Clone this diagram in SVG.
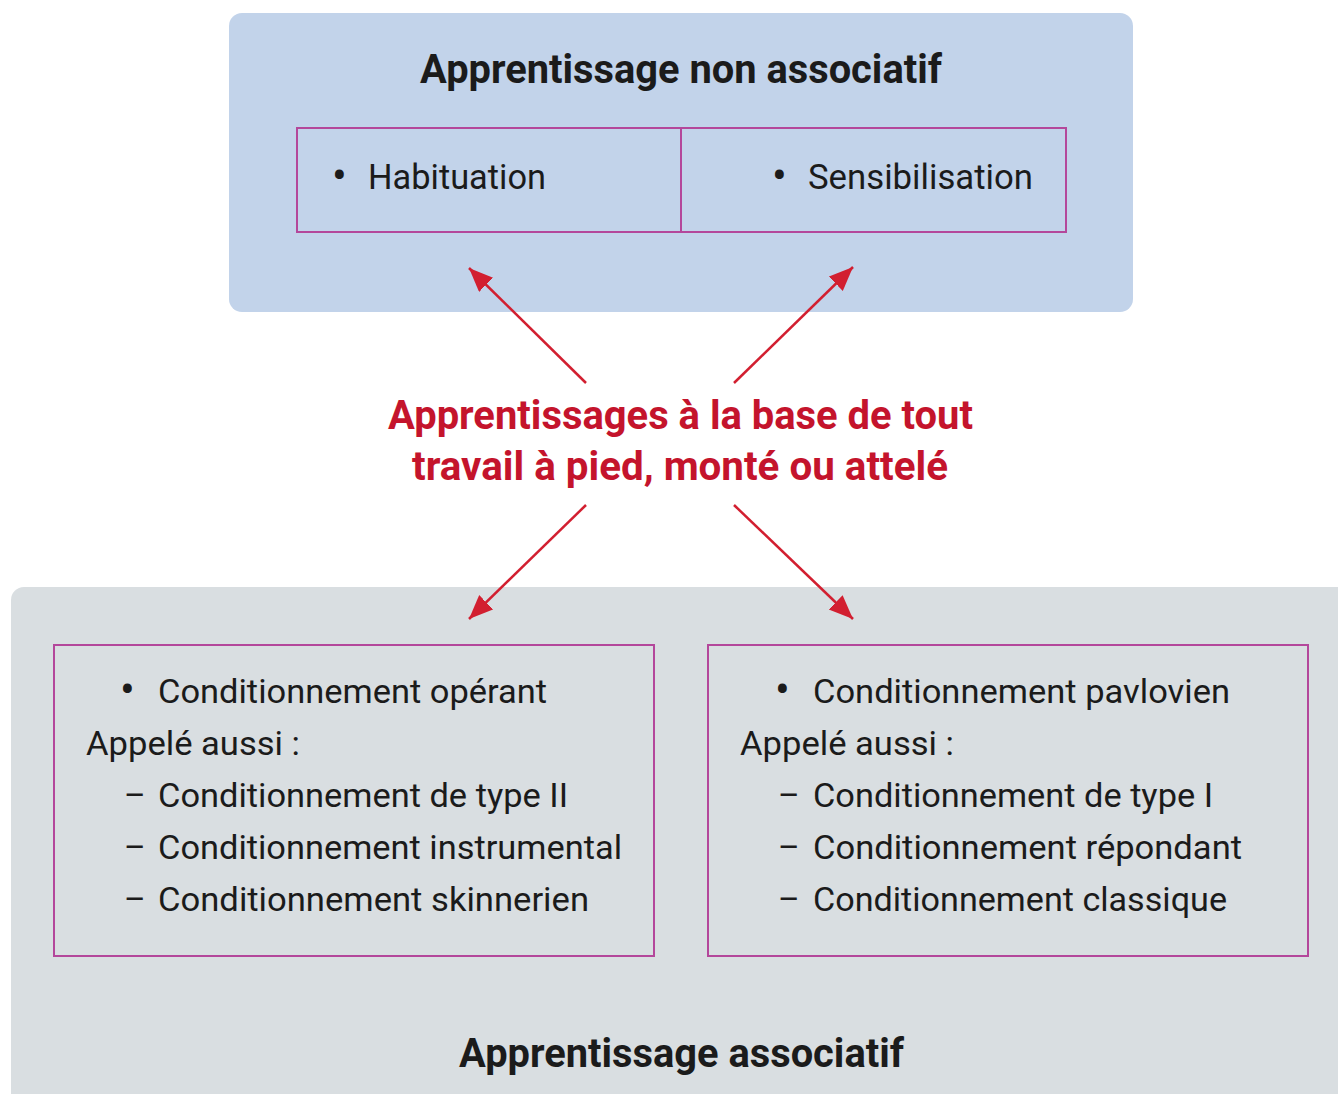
<svg xmlns="http://www.w3.org/2000/svg" width="1338" height="1094" viewBox="0 0 1338 1094">
<style>
.t{font-family:Roboto,"Open Sans","Liberation Sans",sans-serif;fill:#1b1b1b}
.b{font-size:33px}
.h{font-size:35px}
.bu{font-size:44px}
.ti{font-size:40px;font-weight:bold}
.red{font-family:Roboto,"Open Sans","Liberation Sans",sans-serif;font-size:40px;font-weight:bold;fill:#c4142c}
.box{fill:none;stroke:#b4479b;stroke-width:2}
.arr{stroke:#d21f30;stroke-width:2.5;fill:none;marker-end:url(#ah)}
</style>
<defs>
<marker id="ah" markerUnits="userSpaceOnUse" markerWidth="26" markerHeight="22" refX="24" refY="10" orient="auto">
<path d="M0,0 L24,10 L0,20 Z" fill="#d21f30"/>
</marker>
</defs>
<rect width="1338" height="1094" fill="#ffffff"/>
<g id="non-associatif">
<rect x="229" y="13" width="904" height="299" rx="13" fill="#c2d3ea"/>
<text class="t ti" x="420" y="83" textLength="522" lengthAdjust="spacingAndGlyphs">Apprentissage non associatif</text>
<rect class="box" x="297" y="128" width="769" height="104"/>
<line x1="681" y1="128" x2="681" y2="232" stroke="#b4479b" stroke-width="2"/>
</g>
<g id="habituation">
<text class="t bu" x="332" y="191">•</text>
<text class="t h" x="368" y="189" textLength="178" lengthAdjust="spacingAndGlyphs">Habituation</text>
</g>
<g id="sensibilisation">
<text class="t bu" x="772" y="191">•</text>
<text class="t h" x="808" y="189" textLength="225" lengthAdjust="spacingAndGlyphs">Sensibilisation</text>
</g>
<g id="associatif">
<rect x="11" y="587" width="1345" height="530" rx="13" fill="#d9dee1"/>
<text class="t ti" x="459" y="1067" textLength="445" lengthAdjust="spacingAndGlyphs">Apprentissage associatif</text>
</g>
<g id="operant">
<rect class="box" x="54" y="645" width="600" height="311"/>
<text class="t bu" x="120" y="705">•</text>
<text class="t b" x="158" y="703" textLength="389" lengthAdjust="spacingAndGlyphs">Conditionnement opérant</text>
<text class="t b" x="86" y="755" textLength="214" lengthAdjust="spacingAndGlyphs">Appelé aussi :</text>
<text class="t b" x="124" y="807">–</text>
<text class="t b" x="158" y="807" textLength="410" lengthAdjust="spacingAndGlyphs">Conditionnement de type II</text>
<text class="t b" x="124" y="859">–</text>
<text class="t b" x="158" y="859" textLength="464" lengthAdjust="spacingAndGlyphs">Conditionnement instrumental</text>
<text class="t b" x="124" y="911">–</text>
<text class="t b" x="158" y="911" textLength="431" lengthAdjust="spacingAndGlyphs">Conditionnement skinnerien</text>
</g>
<g id="pavlovien">
<rect class="box" x="708" y="645" width="600" height="311"/>
<text class="t bu" x="775" y="705">•</text>
<text class="t b" x="813" y="703" textLength="417" lengthAdjust="spacingAndGlyphs">Conditionnement pavlovien</text>
<text class="t b" x="740" y="755" textLength="214" lengthAdjust="spacingAndGlyphs">Appelé aussi :</text>
<text class="t b" x="778" y="807">–</text>
<text class="t b" x="813" y="807" textLength="400" lengthAdjust="spacingAndGlyphs">Conditionnement de type I</text>
<text class="t b" x="778" y="859">–</text>
<text class="t b" x="813" y="859" textLength="429" lengthAdjust="spacingAndGlyphs">Conditionnement répondant</text>
<text class="t b" x="778" y="911">–</text>
<text class="t b" x="813" y="911" textLength="414" lengthAdjust="spacingAndGlyphs">Conditionnement classique</text>
</g>
<g id="centre">
<text class="red" x="388" y="429" textLength="585" lengthAdjust="spacingAndGlyphs">Apprentissages à la base de tout</text>
<text class="red" x="412" y="480" textLength="536" lengthAdjust="spacingAndGlyphs">travail à pied, monté ou attelé</text>
</g>
<g id="connectors">
<line class="arr" x1="586" y1="383" x2="469" y2="268"/>
<line class="arr" x1="734" y1="383" x2="853" y2="267"/>
<line class="arr" x1="586" y1="505" x2="469" y2="619"/>
<line class="arr" x1="734" y1="505" x2="853" y2="619"/>
</g>
</svg>
